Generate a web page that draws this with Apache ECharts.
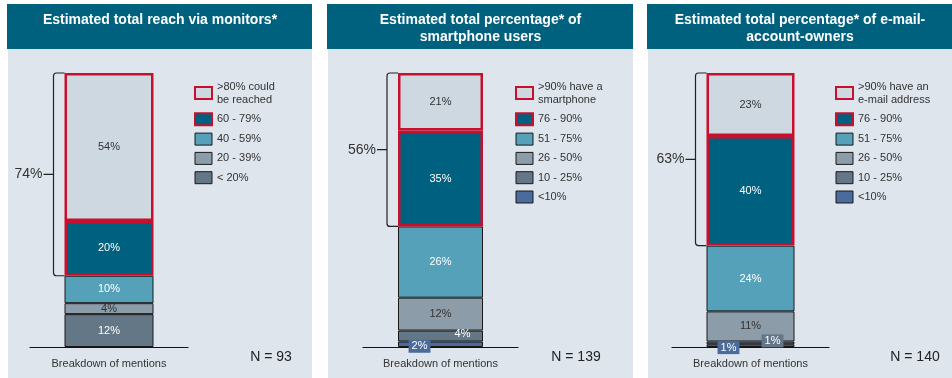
<!DOCTYPE html>
<html>
<head>
<meta charset="utf-8">
<script src="https://cdn.jsdelivr.net/npm/echarts@6/dist/echarts.min.js"></script>
<style>html,body{margin:0;padding:0;background:#fff;}#c{width:952px;height:378px;}</style>
</head>
<body>
<div id="c"></div>
<script>
// ---- data ----
const titles = [
  'Estimated total reach via monitors*',
  'Estimated total percentage* of\nsmartphone users',
  'Estimated total percentage* of e-mail-\naccount-owners'
];
const axisCategory = ['Breakdown of mentions'];
// categories bottom -> top
const categories1 = ['< 20%', '20 - 39%', '40 - 59%', '60 - 79%', '>80% could\nbe reached'];
const values1 = [12, 4, 10, 20, 54];
const categories2 = ['<10%', '10 - 25%', '26 - 50%', '51 - 75%', '76 - 90%', '>90% have a\nsmartphone'];
const values2 = [2, 4, 12, 26, 35, 21];
const categories3 = ['<10%', '10 - 25%', '26 - 50%', '51 - 75%', '76 - 90%', '>90% have an\ne-mail address'];
const values3 = [1, 1, 11, 24, 40, 23];
const bracketTotals = [74, 56, 63];
const sampleSizes = ['N = 93', 'N = 139', 'N = 140'];

// ---- styles / layout ----
const FONT = '"Liberation Sans", Arial, Helvetica, sans-serif';
const palette6 = ['#4a6b9c', '#647786', '#8c9ca9', '#56a1ba', '#00607f', '#cdd8e1'];
const darkText = { '#8c9ca9': true, '#cdd8e1': true };
const panels = [
  { cats: categories1, vals: values1, colors: palette6.slice(1), bx: 8, bw: 304, gl: 30, gw: 158, barW: 89, legX: 194, nX: 271 },
  { cats: categories2, vals: values2, colors: palette6, bx: 328, bw: 305, gl: 363, gw: 155, barW: 85, legX: 515, nX: 576 },
  { cats: categories3, vals: values3, colors: palette6, bx: 648, bw: 304, gl: 672, gw: 157, barW: 88, legX: 835, nX: 915 }
];
// special label placement for tiny segments [panel][index]
const specialLabels = {
  '1-0': { offset: [-21, 2], backgroundColor: '#4a6b9c', padding: [1, 3] },
  '1-1': { offset: [22, -2] },
  '2-0': { offset: [-22, 2], backgroundColor: '#4a6b9c', padding: [1, 3] },
  '2-1': { offset: [22, -2], backgroundColor: '#647786', padding: [1, 3] }
};

const grids = [], xAxes = [], yAxes = [], series = [], legends = [], graphics = [];
const GRID_TOP = 73, GRID_BOTTOM = 31;

panels.forEach((p, pi) => {
  // backgrounds
  graphics.push({ type: 'rect', z: 0, shape: { x: p.bx, y: 49, width: p.bw, height: 329 }, style: { fill: '#dee5ed' } });
  graphics.push({ type: 'rect', z: 0, shape: { x: p.bx - 1, y: 4, width: p.bw + 1, height: 45 }, style: { fill: '#00617f' } });
  const twoLine = titles[pi].indexOf('\n') >= 0;
  graphics.push({ type: 'text', z: 1, x: p.bx + p.bw / 2, y: twoLine ? 28.5 : 20.5,
    style: { text: titles[pi], fill: '#fff', font: 'bold 14px ' + FONT, lineHeight: 17,
      align: 'center', verticalAlign: 'middle', textAlign: 'center', textVerticalAlign: 'middle' } });
  graphics.push({ type: 'text', z: 1, x: p.nX, y: 357,
    style: { text: sampleSizes[pi], fill: '#222', font: '14px ' + FONT,
      align: 'center', verticalAlign: 'middle', textAlign: 'center', textVerticalAlign: 'middle' } });

  grids.push({ left: p.gl, width: p.gw, top: GRID_TOP, bottom: GRID_BOTTOM });
  xAxes.push({ type: 'category', gridIndex: pi, data: axisCategory,
    axisLine: { lineStyle: { color: '#111', width: 1.2 } }, axisTick: { show: false },
    axisLabel: { color: '#333', fontSize: 11, fontFamily: FONT, margin: 11 } });
  yAxes.push({ type: 'value', gridIndex: pi, min: 0, max: 100, show: false, splitLine: { show: false } });

  const n = p.cats.length;
  const legendData = [];
  p.cats.forEach((name, i) => {
    const hi = i >= n - 2;
    const col = p.colors[i];
    const sp = specialLabels[pi + '-' + i] || {};
    series.push({
      type: 'bar', name: name, stack: 'p' + pi, xAxisIndex: pi, yAxisIndex: pi,
      barWidth: p.barW, z: hi ? 4 : 3,
      data: [p.vals[i]],
      itemStyle: { color: col, borderColor: hi ? '#c8102e' : '#1a1a1a', borderWidth: hi ? 2.5 : 1 },
      label: Object.assign({ show: true, position: 'inside', formatter: '{c}%', fontSize: 11, fontFamily: FONT,
        color: darkText[col] && !sp.backgroundColor ? '#333' : '#fff' }, sp)
    });
    legendData.unshift({ name: name, itemStyle: { borderColor: hi ? '#c8102e' : '#1a1a1a', borderWidth: hi ? 2 : 1 } });
  });
  legends.push({ orient: 'vertical', left: p.legX, top: 80, padding: 0, itemWidth: 17, itemHeight: 12, itemGap: 6.3,
    icon: 'rect', selectedMode: false, data: legendData,
    textStyle: { color: '#333', fontSize: 11, fontFamily: FONT, lineHeight: 13 } });

  // bracket
  const total = p.vals.reduce((a, b) => a + b, 0);
  const barW = p.barW;
  series.push({
    type: 'custom', xAxisIndex: pi, yAxisIndex: pi, z: 5, silent: true,
    data: [[0, bracketTotals[pi]]],
    renderItem: function (params, api) {
      const topPt = api.coord([0, total]);
      const botPt = api.coord([0, total - api.value(1)]);
      const barLeft = topPt[0] - barW / 2;
      const bx = barLeft - 11;
      const t = topPt[1], b = botPt[1], m = (t + b) / 2;
      const path = 'M' + (barLeft) + ' ' + t + ' L' + (bx + 3) + ' ' + t + ' Q' + bx + ' ' + t + ' ' + bx + ' ' + (t + 3) +
        ' L' + bx + ' ' + (b - 3) + ' Q' + bx + ' ' + b + ' ' + (bx + 3) + ' ' + b + ' L' + barLeft + ' ' + b +
        ' M' + bx + ' ' + m + ' L' + (bx - 10) + ' ' + m;
      return { type: 'group', children: [
        { type: 'path', shape: { pathData: path }, style: { stroke: '#222', lineWidth: 1.2, fill: 'none' } },
        { type: 'text', x: bx - 11, y: m, style: { text: api.value(1) + '%', fill: '#333', font: '14px ' + FONT,
          align: 'right', verticalAlign: 'middle', textAlign: 'right', textVerticalAlign: 'middle' } }
      ] };
    }
  });
});

const chart = echarts.init(document.getElementById('c'), null, { renderer: 'canvas' });
chart.setOption({
  animation: false,
  backgroundColor: '#ffffff',
  grid: grids, xAxis: xAxes, yAxis: yAxes, legend: legends, series: series, graphic: graphics
});
</script>
</body>
</html>
